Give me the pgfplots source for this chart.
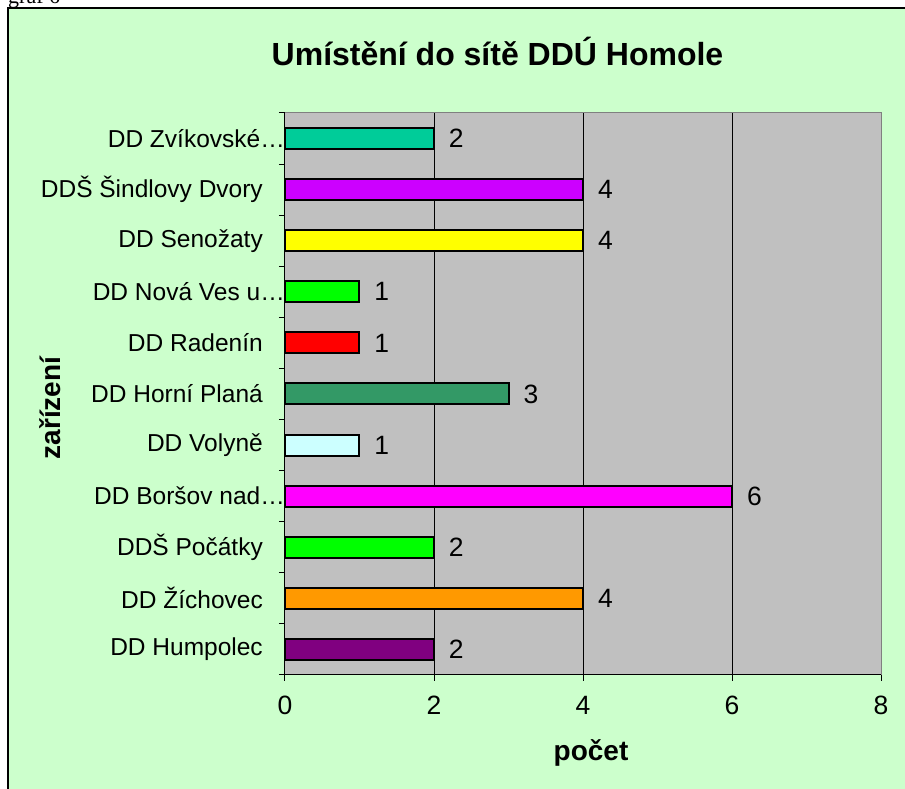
\documentclass[border=0pt]{standalone}
\usepackage{pgfplots}
\pgfplotsset{compat=1.18}
\usepackage{fontspec}
\setmainfont{Liberation Sans}
\newfontfamily\seriffont{Liberation Serif}
\definecolor{chartbg}{HTML}{CCFFCC}
\definecolor{plotbg}{HTML}{C0C0C0}
\definecolor{plotborder}{HTML}{808080}
\definecolor{cA}{HTML}{00CC99}
\definecolor{cB}{HTML}{CC00FF}
\definecolor{cC}{HTML}{FFFF00}
\definecolor{cD}{HTML}{00FF00}
\definecolor{cE}{HTML}{FF0000}
\definecolor{cF}{HTML}{339966}
\definecolor{cG}{HTML}{CCFFFF}
\definecolor{cH}{HTML}{FF00FF}
\definecolor{cI}{HTML}{00FF00}
\definecolor{cJ}{HTML}{FF9900}
\definecolor{cK}{HTML}{800080}
\newcommand{\lab}{\fontsize{24.5}{28}\selectfont}
\newcommand{\num}{\fontsize{26.5}{30}\selectfont}
\begin{document}
\begin{tikzpicture}
\useasboundingbox (0pt,0pt) rectangle (905pt,789pt);
\clip (0pt,0pt) rectangle (905pt,789pt);
\fill[white] (0pt,0pt) rectangle (905pt,789pt);
\fill[chartbg] (8pt,-10pt) rectangle (920pt,781pt);
\draw[black, line width=1.2pt] (8pt,-10pt) -- (8pt,781pt) -- (920pt,781pt);
\node[anchor=base west, inner sep=0pt] at (8pt,785pt) {\seriffont\fontsize{22}{24}\selectfont graf 6};
\begin{axis}[
  at={(285pt,114pt)}, anchor=south west,
  scale only axis, width=596pt, height=562pt,
  xmin=0, xmax=8, ymin=-0.5, ymax=10.5,
  axis background/.style={fill=plotbg, draw=plotborder, line width=1pt},
  axis lines*=left,
  axis line style={black, line width=1pt},
  tick align=outside,
  /pgf/number format/assume math mode=true,
  xtick={0,2,4,6,8},
  major tick length=6pt,
  minor tick length=6pt,
  tick style={black, line width=1pt},
  major y tick style={draw=none},
  ytick={0,...,10},
  minor ytick={-0.5,0.5,...,10.5},
  yticklabels={DD Humpolec, DD Žíchovec, DDŠ Počátky, DD Boršov nad…\kern-22pt, DD Volyně, DD Horní Planá, DD Radenín, DD Nová Ves u…\kern-22pt, DD Senožaty, DDŠ Šindlovy Dvory, DD Zvíkovské…\kern-22pt},
  yticklabel style={font=\lab, inner sep=0pt, xshift=-16pt},
  xticklabel style={font=\num, inner sep=0pt, yshift=-15pt},
  extra x ticks={2,4,6},
  extra x tick labels={},
  extra x tick style={grid=major, major tick length=0pt},
  major grid style={black, line width=0.8pt},
  xbar, bar width=21pt, bar shift=0pt,
  every axis plot/.append style={draw=black, line width=2pt},
  nodes near coords,
  every node near coord/.append style={font=\num, anchor=west, inner sep=0pt, xshift=14pt, black},
  clip=false,
]
\addplot[fill=cK] coordinates {(2,0)};
\addplot[fill=cJ] coordinates {(4,1)};
\addplot[fill=cI] coordinates {(2,2)};
\addplot[fill=cH] coordinates {(6,3)};
\addplot[fill=cG] coordinates {(1,4)};
\addplot[fill=cF] coordinates {(3,5)};
\addplot[fill=cE] coordinates {(1,6)};
\addplot[fill=cD] coordinates {(1,7)};
\addplot[fill=cC] coordinates {(4,8)};
\addplot[fill=cB] coordinates {(4,9)};
\addplot[fill=cA] coordinates {(2,10)};
\end{axis}
\node[anchor=base, inner sep=0pt] at (497.5pt,723pt) {\bfseries\fontsize{32}{36}\selectfont Umístění do sítě DDÚ Homole};
\node[anchor=base, inner sep=0pt] at (591pt,28pt) {\bfseries\fontsize{28}{32}\selectfont počet};
\node[anchor=base, inner sep=0pt, rotate=90] at (60pt,381pt) {\bfseries\fontsize{28}{32}\selectfont zařízení};
\end{tikzpicture}
\end{document}
